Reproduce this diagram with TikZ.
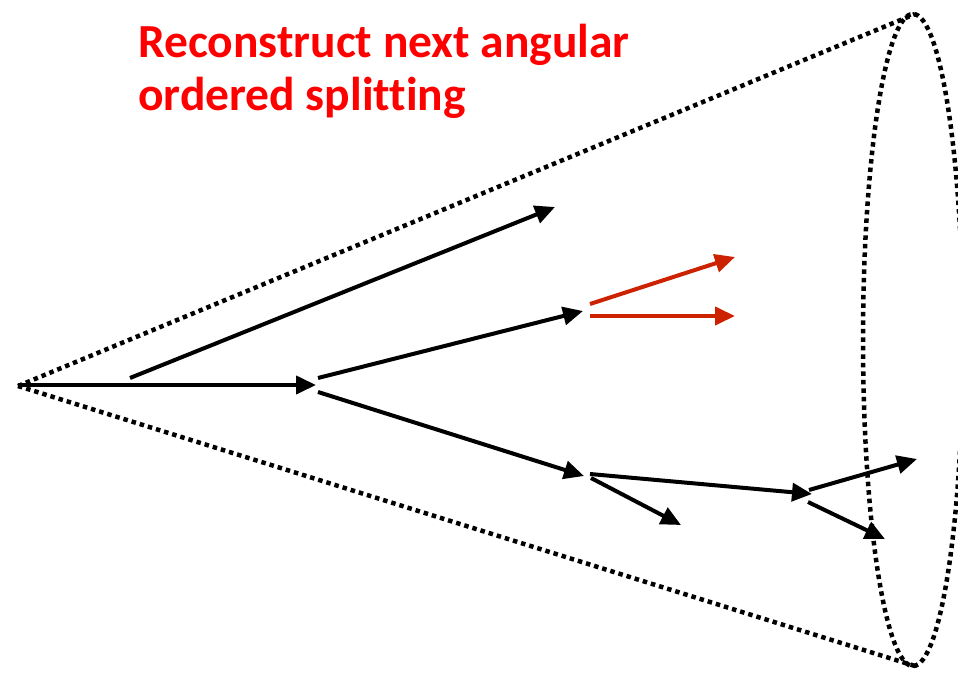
\documentclass[tikz,border=0pt]{standalone}
\usepackage{fontspec}
\setmainfont{Carlito}[Ligatures=NoCommon]
\usetikzlibrary{arrows.meta}
\definecolor{titlered}{RGB}{255,0,0}
\definecolor{newsplit}{RGB}{204,34,0}
\tikzset{
  parton/.style={line width=4pt, -{Triangle[length=20pt,width=18pt]}},
  newparton/.style={parton, draw=newsplit},
  conebound/.style={line width=4.5pt, dash pattern=on 4.5pt off 4pt},
}
\begin{document}
\begin{tikzpicture}[x=1pt,y=-1pt]
\useasboundingbox (0,0) rectangle (958,674);

% jet cone: apex, rim ellipse and the two edges
\coordinate (apex) at (18,386);
\coordinate (rimtop) at (915,14);
\coordinate (rimbot) at (915,666);
\draw[conebound] (913,340) ellipse [x radius=50, y radius=326];
\draw[conebound] (apex) -- (rimtop);
\draw[conebound] (apex) -- (rimbot);

% shower branching points and end points
\coordinate (s0) at (18,385);
\coordinate (v1) at (316,385);
\coordinate (a0) at (130,378);
\coordinate (a1) at (555,207);
\coordinate (b0) at (318,378);
\coordinate (b1) at (583,311);
\coordinate (c0) at (318,392);
\coordinate (c1) at (584,476);
\coordinate (d0) at (590,474);
\coordinate (d1) at (812,494);
\coordinate (e0) at (591,478);
\coordinate (e1) at (681,525);
\coordinate (f0) at (809,490);
\coordinate (f1) at (917,459);
\coordinate (g0) at (808,502);
\coordinate (g1) at (885,539);
\coordinate (r0) at (590,304);
\coordinate (r1) at (735,257);
\coordinate (q0) at (590,316);
\coordinate (q1) at (735,316);

\draw[parton] (s0) -- (v1);
\draw[parton] (a0) -- (a1);
\draw[parton] (b0) -- (b1);
\draw[parton] (c0) -- (c1);
\draw[parton] (d0) -- (d1);
\draw[parton] (e0) -- (e1);
\draw[parton] (f0) -- (f1);
\draw[parton] (g0) -- (g1);

% the splitting to be reconstructed
\draw[newparton] (r0) -- (r1);
\draw[newparton] (q0) -- (q1);

\node[anchor=base west, inner sep=0pt, align=left, text=titlered,
      font=\fontsize{47.5}{53}\selectfont\bfseries] (title) at (138,111)
  {Reconstruct next angular\\ordered splitting};
\end{tikzpicture}
\end{document}
